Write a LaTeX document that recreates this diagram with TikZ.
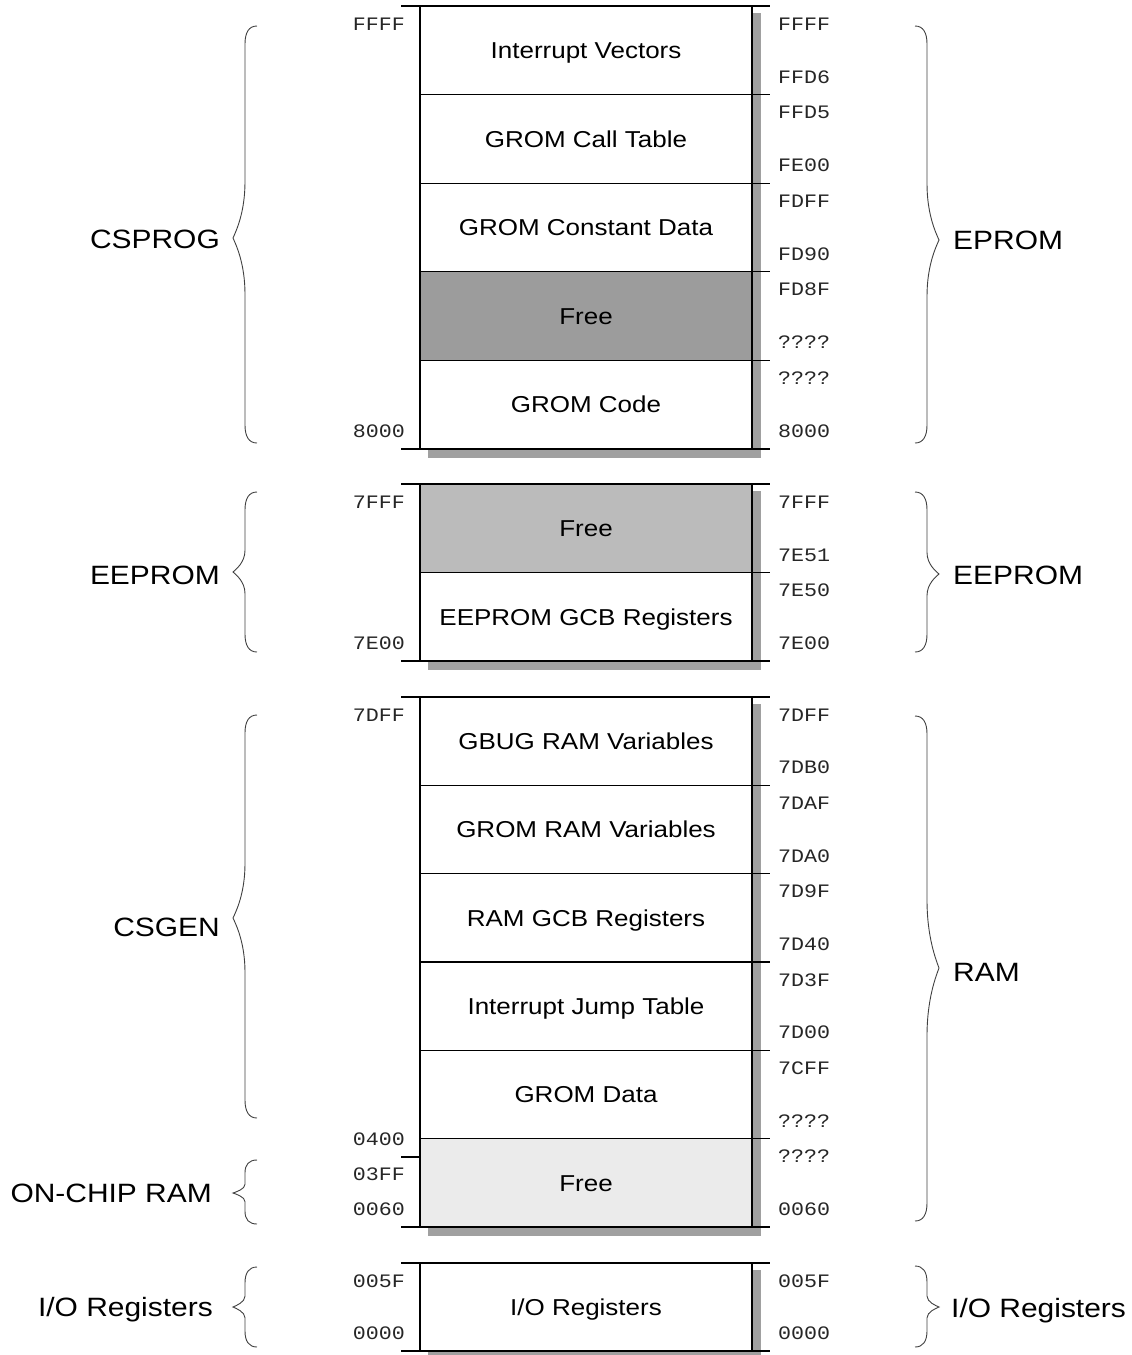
\documentclass[tikz,border=0pt]{standalone}
\usepackage{fontspec}
\setmainfont{Liberation Sans}[FakeStretch=1.13]
\newfontfamily\addrfont{Liberation Mono}[FakeStretch=1.14]
\definecolor{shadowgray}{HTML}{A0A0A0}
\definecolor{freedark}{HTML}{9C9C9C}
\definecolor{freemid}{HTML}{BBBBBB}
\definecolor{freelight}{HTML}{EBEBEB}
\tikzset{
  boxtext/.style={font=\fontsize{23}{27}\selectfont, text height=16.5pt, text depth=0pt, inner sep=0pt, anchor=center},
  biglabel/.style={font=\fontsize{26.5}{30}\selectfont, text height=19pt, text depth=0pt, inner sep=0pt},
  bigl/.style={biglabel, anchor=east},
  bigr/.style={biglabel, anchor=west},
  addrL/.style={font=\addrfont\fontsize{19}{22}\selectfont, anchor=base east, inner sep=0pt, text=black!85},
  addrR/.style={font=\addrfont\fontsize{19}{22}\selectfont, anchor=base west, inner sep=0pt, text=black!85},
  outline/.style={line width=2pt},
  sepline/.style={line width=1.3pt},
  bracestyle/.style={line width=0.9pt, draw=black!75},
}
% section: name, top, bottom, text, fill, right-top label, right-bottom label
\newcommand\memsec[7]{%
  \fill[#5] (420,#2) rectangle (752,#3);
  \node[boxtext] (#1) at (586,{(#2+#3)/2}) {#4};
  \node[addrR] (#1-rt) at (778,{#2+24}) {#6};
  \node[addrR] (#1-rb) at (778,{#3-11.5}) {#7};
}
% block frame: top, bottom
\newcommand\memshadow[2]{%
  \fill[shadowgray] (428,{#1+7}) rectangle (761,{#2+9});
}
\newcommand\memframe[2]{%
  \draw[outline] (401,#1) -- (770,#1);
  \draw[outline] (401,#2) -- (770,#2);
  \draw[outline] (420,#1) -- (420,#2);
  \draw[outline] (752,#1) -- (752,#2);
}
\newcommand\memsep[1]{\draw[sepline] (420,#1) -- (770,#1);}
% brace: end x, direction (+1 right / -1 left), top, bottom, tip y
\newcommand\mybrace[5]{%
  \pgfmathsetmacro\bh{#4-#3}%
  \pgfmathsetmacro\bc{min(18,0.2*\bh)}%
  \pgfmathsetmacro\bt{0.135*\bh}%
  \pgfmathsetmacro\xa{#1+#2*8}%
  \pgfmathsetmacro\xv{#1+#2*12}%
  \pgfmathsetmacro\xt{#1+#2*24}%
  \pgfmathsetmacro\xn{#1+#2*21}%
  \draw[bracestyle] (#1,#3) .. controls (\xa,#3) and (\xv,{#3+0.35*\bc}) .. (\xv,{#3+\bc})
    -- (\xv,{#5-\bt}) .. controls (\xv,{#5-0.45*\bt}) and (\xn,{#5-0.12*\bt}) .. (\xt,#5)
    .. controls (\xn,{#5+0.12*\bt}) and (\xv,{#5+0.45*\bt}) .. (\xv,{#5+\bt})
    -- (\xv,{#4-\bc}) .. controls (\xv,{#4-0.35*\bc}) and (\xa,#4) .. (#1,#4);
}
\begin{document}
\begin{tikzpicture}[x=1pt,y=-1pt]
\useasboundingbox (0,0) rectangle (1132,1355);

% ---------- Block 1: CSPROG / EPROM ----------
\memshadow{6}{449}
\memsec{iv}{6}{94.6}{Interrupt Vectors}{white}{FFFF}{FFD6}
\memsec{gct}{94.6}{183.2}{GROM Call Table}{white}{FFD5}{FE00}
\memsec{gcd}{183.2}{271.8}{GROM Constant Data}{white}{FDFF}{FD90}
\memsec{free1}{271.8}{360.4}{Free}{freedark}{FD8F}{????}
\memsec{gcode}{360.4}{449}{GROM Code}{white}{????}{8000}
\memsep{94.6}\memsep{183.2}\memsep{271.8}\memsep{360.4}
\memframe{6}{449}
\node[addrL] (a1t) at (405,30) {FFFF};
\node[addrL] (a1b) at (405,437.5) {8000};

% ---------- Block 2: EEPROM ----------
\memshadow{484}{661}
\memsec{free2}{484}{572.5}{Free}{freemid}{7FFF}{7E51}
\memsec{egcb}{572.5}{661}{EEPROM GCB Registers}{white}{7E50}{7E00}
\memsep{572.5}
\memframe{484}{661}
\node[addrL] (a2t) at (405,508) {7FFF};
\node[addrL] (a2b) at (405,649.5) {7E00};

% ---------- Block 3: CSGEN / RAM ----------
\memshadow{697}{1227}
\memsec{gbug}{697}{785.3}{GBUG RAM Variables}{white}{7DFF}{7DB0}
\memsec{grv}{785.3}{873.7}{GROM RAM Variables}{white}{7DAF}{7DA0}
\memsec{rgcb}{873.7}{962}{RAM GCB Registers}{white}{7D9F}{7D40}
\memsec{ijt}{962}{1050.3}{Interrupt Jump Table}{white}{7D3F}{7D00}
\memsec{gdata}{1050.3}{1138.7}{GROM Data}{white}{7CFF}{????}
\memsec{free3}{1138.7}{1227}{Free}{freelight}{????}{0060}
\memsep{785.3}\memsep{873.7}\memsep{962}\memsep{1050.3}\memsep{1138.7}
\memframe{697}{1227}
\draw[sepline] (401,1157) -- (420,1157);
\node[addrL] (a3t) at (405,721) {7DFF};
\node[addrL] (a3m1) at (405,1145) {0400};
\node[addrL] (a3m2) at (405,1180) {03FF};
\node[addrL] (a3b) at (405,1215.5) {0060};

% ---------- Block 4: I/O ----------
\memshadow{1263}{1351}
\memsec{io}{1263}{1351}{I/O Registers}{white}{005F}{0000}
\memframe{1263}{1351}
\node[addrL] (a4t) at (405,1287) {005F};
\node[addrL] (a4b) at (405,1339.5) {0000};

% ---------- Braces ----------
\mybrace{257}{-1}{26}{443}{238}
\mybrace{915}{1}{26}{443}{240}
\mybrace{257}{-1}{492}{652}{572}
\mybrace{915}{1}{492}{652}{574}
\mybrace{257}{-1}{715}{1118}{918}
\mybrace{915}{1}{716}{1221}{968}
\mybrace{257}{-1}{1160}{1224}{1193}
\mybrace{257}{-1}{1267}{1347}{1307}
\mybrace{915}{1}{1266}{1347}{1307}

% ---------- Region labels ----------
\node[bigl] (lcsprog) at (220,239) {CSPROG};
\node[bigl] (leeprom) at (220,575) {EEPROM};
\node[bigl] (lcsgen) at (220,927) {CSGEN};
\node[bigl] (lonchip) at (212,1193) {ON-CHIP RAM};
\node[bigl] (lio) at (213,1307) {I/O Registers};
\node[bigr] (reprom) at (953,240) {EPROM};
\node[bigr] (reeprom) at (953,575) {EEPROM};
\node[bigr] (rram) at (953,972) {RAM};
\node[bigr] (rio) at (951,1308) {I/O Registers};
\end{tikzpicture}
\end{document}
